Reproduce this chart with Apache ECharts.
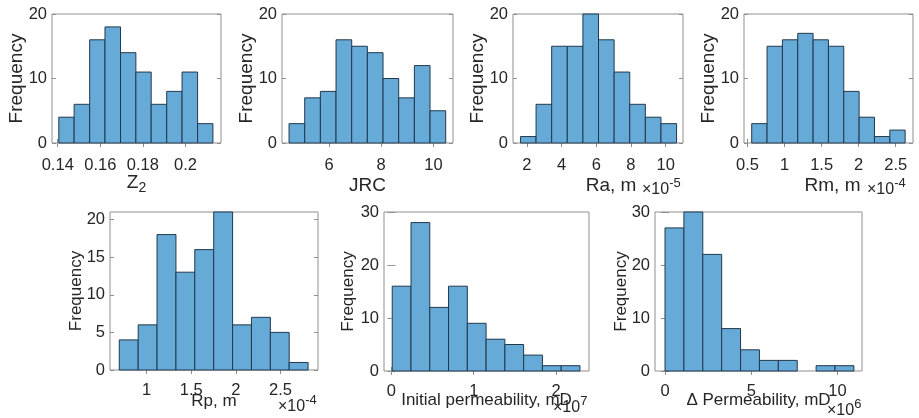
<!DOCTYPE html>
<html>
<head>
<meta charset="utf-8">
<script src="https://cdn.jsdelivr.net/npm/echarts@6/dist/echarts.min.js"></script>
<style>
    html, body { margin: 0; padding: 0; background: #fff; }
    #chart { width: 919px; height: 418px; }
</style>
</head>
<body>
<div id="chart"></div>
<script>
// bin counts (Frequency), 97 samples each
var z2Counts = [4, 6, 16, 18, 14, 11, 6, 8, 11, 3];
var jrcCounts = [3, 7, 8, 16, 15, 14, 10, 7, 12, 5];
var raCounts = [1, 6, 15, 15, 20, 16, 11, 6, 4, 3];
var rmCounts = [3, 15, 16, 17, 16, 15, 8, 4, 1, 2];
var rpCounts = [4, 6, 18, 13, 16, 21, 6, 7, 5, 1];
var k0Counts = [16, 28, 12, 16, 9, 6, 5, 3, 1, 1];
var dkCounts = [27, 30, 22, 8, 4, 2, 2, 0, 1, 1];

// bin edges in plotted units (Ra x1e-5 m, Rm/Rp x1e-4 m, k0 x1e7 mD, dk x1e6 mD)
var z2Edges = [0.1405, 0.1477, 0.1550, 0.1622, 0.1695, 0.1767, 0.1839, 0.1912, 0.1984, 0.2057, 0.2129];
var jrcEdges = [4.47, 5.07, 5.67, 6.27, 6.87, 7.47, 8.07, 8.67, 9.27, 9.87, 10.47];
var raEdges = [1.63, 2.53, 3.43, 4.33, 5.23, 6.13, 7.03, 7.93, 8.83, 9.73, 10.63];
var rmEdges = [0.557, 0.764, 0.971, 1.178, 1.385, 1.592, 1.799, 2.006, 2.213, 2.42, 2.627];
var rpEdges = [0.693, 0.905, 1.116, 1.328, 1.539, 1.751, 1.963, 2.174, 2.386, 2.597, 2.809];
var k0Edges = [0.01, 0.238, 0.466, 0.694, 0.922, 1.15, 1.378, 1.606, 1.834, 2.062, 2.29];
var dkEdges = [0, 1.095, 2.19, 3.285, 4.38, 5.475, 6.57, 7.665, 8.76, 9.855, 10.95];

// tick labels
var z2Ticks = [0.14, 0.16, 0.18, 0.2];
var jrcTicks = [6, 8, 10];
var raTicks = [2, 4, 6, 8, 10];
var rmTicks = [0.5, 1, 1.5, 2, 2.5];
var rpTicks = [1, 1.5, 2, 2.5];
var k0Ticks = [0, 1, 2];
var dkTicks = [0, 5, 10];
var freqTicks20 = [0, 10, 20];
var freqTicks21 = [0, 5, 10, 15, 20];
var freqTicks30 = [0, 10, 20, 30];

var FONT = 'Liberation Sans';
var TXT = '#262626';
var BOX = '#8f8f8f';

// fs = axis title font size (bottom row was exported a bit smaller)
var panels = [
    {box: [52, 14, 169, 129], counts: z2Counts, edges: z2Edges, xr: [0.1373, 0.2167], xt: z2Ticks, ymax: 20, yt: freqTicks20,
        name: '{z|Z}{s|2}', gap: 30, shift: 0, ygap: 26, fs: 19, lm: 14},
    {box: [282, 14, 171, 129], counts: jrcCounts, edges: jrcEdges, xr: [4.2, 10.75], xt: jrcTicks, ymax: 20, yt: freqTicks20,
        name: 'JRC', gap: 33, shift: 0, ygap: 26, fs: 19, lm: 14},
    {box: [513, 14, 170, 129], counts: raCounts, edges: raEdges, xr: [1.2, 11.0], xt: raTicks, ymax: 20, yt: freqTicks20,
        name: 'Ra, m', gap: 33, shift: 13, ygap: 26, fs: 19, lm: 14, exp: '-5', ex: 642, ey: 190},
    {box: [744, 14, 169, 129], counts: rmCounts, edges: rmEdges, xr: [0.453, 2.733], xt: rmTicks, ymax: 20, yt: freqTicks20,
        name: 'Rm, m', gap: 33, shift: 4, ygap: 26, fs: 19, lm: 14, exp: '-4', ex: 867, ey: 190},
    {box: [110, 212, 208, 158], counts: rpCounts, edges: rpEdges, xr: [0.589, 2.92], xt: rpTicks, ymax: 21, yt: freqTicks21,
        name: 'Rp, m', gap: 21, shift: 0, ygap: 25, fs: 17, lm: 12, exp: '-4', ex: 278, ey: 407},
    {box: [384, 212, 205, 159], counts: k0Counts, edges: k0Edges, xr: [-0.09, 2.4], xt: k0Ticks, ymax: 30, yt: freqTicks30,
        name: 'Initial permeability, mD', gap: 19, shift: 0, ygap: 27, fs: 17, lm: 12, exp: '7', ex: 553, ey: 408},
    {box: [655, 212, 207, 159], counts: dkCounts, edges: dkEdges, xr: [-0.58, 11.42], xt: dkTicks, ymax: 30, yt: freqTicks30,
        name: '\u0394 Permeability, mD', gap: 19, shift: 0, ygap: 25, fs: 17, lm: 12, exp: '6', ex: 827, ey: 411}
];

function renderBin(params, api) {
    if (api.value(2) <= 0) {
        return null;
    }
    var lo = api.coord([api.value(0), 0]);
    var hi = api.coord([api.value(1), api.value(2)]);
    return {
        type: 'rect',
        shape: {x: lo[0], y: hi[1], width: hi[0] - lo[0], height: lo[1] - hi[1]},
        style: {fill: '#66aad7', stroke: '#22384c', lineWidth: 1}
    };
}

var grids = [], xAxes = [], yAxes = [], series = [], graphics = [];

panels.forEach(function (p, i) {
    grids.push({
        left: p.box[0], top: p.box[1], width: p.box[2], height: p.box[3],
        show: true, borderColor: BOX, borderWidth: 1, backgroundColor: '#fff'
    });
    var tickX = {inside: true, length: 4, lineStyle: {color: BOX}, customValues: p.xt};
    var tickY = {inside: true, length: 4, lineStyle: {color: BOX}, customValues: p.yt};
    xAxes.push({
        type: 'value', gridIndex: i, position: 'bottom', min: p.xr[0], max: p.xr[1],
        axisLine: {show: false}, splitLine: {show: false}, axisTick: tickX,
        axisLabel: {customValues: p.xt, margin: p.lm, color: TXT, fontFamily: FONT, fontSize: 16.5},
        name: p.name, nameLocation: 'middle', nameGap: p.gap, nameMoveOverlap: false,
        nameTextStyle: {
            color: TXT, fontFamily: FONT, fontSize: p.fs, lineHeight: 20,
            padding: [0, 0, 0, p.shift * 2],
            rich: {
                z: {fontFamily: FONT, fontSize: 19, lineHeight: 20, color: TXT},
                s: {fontFamily: FONT, fontSize: 14, lineHeight: 16, color: TXT, padding: [10, 0, 0, 0]}
            }
        }
    });
    xAxes.push({
        type: 'value', gridIndex: i, position: 'top', min: p.xr[0], max: p.xr[1],
        axisLine: {show: false}, splitLine: {show: false}, axisTick: tickX,
        axisLabel: {show: false, customValues: p.xt}
    });
    yAxes.push({
        type: 'value', gridIndex: i, position: 'left', min: 0, max: p.ymax,
        axisLine: {show: false}, splitLine: {show: false}, axisTick: tickY,
        axisLabel: {customValues: p.yt, margin: 5, color: TXT, fontFamily: FONT, fontSize: 16.5},
        name: 'Frequency', nameLocation: 'middle', nameGap: p.ygap, nameMoveOverlap: false,
        nameTextStyle: {color: TXT, fontFamily: FONT, fontSize: p.fs}
    });
    yAxes.push({
        type: 'value', gridIndex: i, position: 'right', min: 0, max: p.ymax,
        axisLine: {show: false}, splitLine: {show: false}, axisTick: tickY,
        axisLabel: {show: false, customValues: p.yt}
    });

    var bins = [];
    for (var k = 0; k < p.counts.length; k++) {
        bins.push([p.edges[k], p.edges[k + 1], p.counts[k]]);
    }
    series.push({
        type: 'custom', xAxisIndex: i * 2, yAxisIndex: i * 2,
        renderItem: renderBin, data: bins, encode: {x: [0, 1], y: 2}, silent: true
    });

    if (p.exp) {
        graphics.push({
            type: 'text', x: p.ex, y: p.ey, silent: true,
            style: {
                text: '{a|\u00d710}{b|' + p.exp + '}', verticalAlign: 'middle', align: 'left',
                rich: {
                    a: {fontFamily: FONT, fontSize: 16, lineHeight: 18, fill: TXT, color: TXT},
                    b: {fontFamily: FONT, fontSize: 13, lineHeight: 13, fill: TXT, color: TXT, padding: [0, 0, 14, 0]}
                }
            }
        });
    }
});

var chart = echarts.init(document.getElementById('chart'));
chart.setOption({
    animation: false,
    backgroundColor: '#fff',
    grid: grids,
    xAxis: xAxes,
    yAxis: yAxes,
    series: series,
    graphic: graphics
});
</script>
</body>
</html>
